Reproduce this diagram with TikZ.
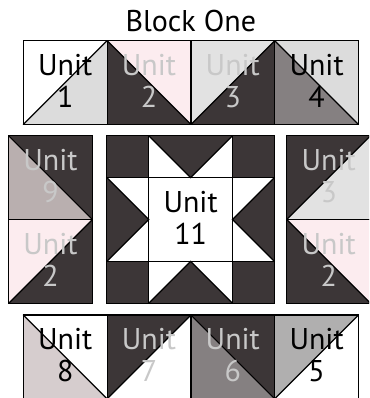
\documentclass[tikz,border=0pt]{standalone}
\usepackage{fontspec}
\setmainfont{PT Sans}
\definecolor{darkq}{RGB}{60,54,55}
\definecolor{pinkq}{RGB}{252,236,239}
\definecolor{lgreyq}{RGB}{220,220,220}
\definecolor{lgreyr}{RGB}{226,226,226}
\definecolor{mgreyq}{RGB}{133,128,129}
\definecolor{taupeq}{RGB}{185,175,175}
\definecolor{ltaupeq}{RGB}{214,205,206}
\definecolor{greyfive}{RGB}{176,175,175}
\definecolor{textlight}{RGB}{200,200,200}
\newcommand\unitsz{83.8}
\tikzset{
  edge/.style={line width=1.2pt, black, line cap=round},
  unitbox/.style={draw=black, line width=1.2pt, minimum width=83.8pt, minimum height=83.8pt,
    inner sep=0pt, align=center, text depth=4pt, font=\fontsize{30}{32}\selectfont},
  titlefont/.style={font=\fontsize{30}{32}\selectfont, inner sep=0pt}
}
% diagonal from bottom-left to top-right
\newcommand\hstup[7]{%
  \fill[#4] (#1,#2) -- ++(\unitsz,0) -- ++(-\unitsz,\unitsz) -- cycle;
  \fill[#5] (#1+\unitsz,#2) -- ++(0,\unitsz) -- ++(-\unitsz,0) -- cycle;
  \draw[edge] (#1,#2+\unitsz) -- (#1+\unitsz,#2);
  \node[unitbox, text=#6] (#3) at (#1+41.9,#2+41.9) {Unit\\#7};
}
% diagonal from top-left to bottom-right
\newcommand\hstdown[7]{%
  \fill[#4] (#1,#2) -- ++(\unitsz,0) -- ++(0,\unitsz) -- cycle;
  \fill[#5] (#1,#2) -- ++(\unitsz,\unitsz) -- ++(-\unitsz,0) -- cycle;
  \draw[edge] (#1,#2) -- (#1+\unitsz,#2+\unitsz);
  \node[unitbox, text=#6] (#3) at (#1+41.9,#2+41.9) {Unit\\#7};
}
\begin{document}
\begin{tikzpicture}[x=1pt,y=-1pt]
\useasboundingbox (0,0) rectangle (369,398);
\clip (0,0) rectangle (369,398);
\fill[white] (0,0) rectangle (369,398);
% title
\node[titlefont, anchor=base] (title) at (190.8,31.7) {Block One};
% top row
\hstup{23.3}{40.7}{u1}{white}{lgreyq}{black}{1}
\hstdown{107.1}{40.7}{u2t}{pinkq}{darkq}{textlight}{2}
\hstup{190.9}{40.7}{u3t}{lgreyr}{darkq}{textlight}{3}
\hstdown{274.7}{40.7}{u4}{lgreyq}{mgreyq}{black}{4}
% left column
\hstdown{8.6}{135.7}{u9}{darkq}{taupeq}{textlight}{9}
\hstup{8.6}{219.5}{u2l}{pinkq}{darkq}{textlight}{2}
% right column
\hstup{286.8}{135.7}{u3r}{darkq}{lgreyr}{textlight}{3}
\hstdown{286.8}{219.5}{u2r}{pinkq}{darkq}{textlight}{2}
% bottom row
\hstdown{23.3}{315}{u8}{white}{ltaupeq}{black}{8}
\hstup{107.1}{315}{u7}{darkq}{white}{textlight}{7}
\hstdown{190.9}{315}{u6}{darkq}{mgreyq}{textlight}{6}
\hstup{274.7}{315}{u5}{greyfive}{white}{black}{5}
% center star block
\fill[white] (106.8,135.7) rectangle (274.4,303.3);
\fill[darkq] (106.8,135.7) rectangle (148.7,177.6);
\fill[darkq] (232.5,135.7) rectangle (274.4,177.6);
\fill[darkq] (106.8,261.4) rectangle (148.7,303.3);
\fill[darkq] (232.5,261.4) rectangle (274.4,303.3);
\fill[darkq] (148.7,135.7) -- (232.5,135.7) -- (190.6,177.6) -- cycle;
\fill[darkq] (148.7,303.3) -- (232.5,303.3) -- (190.6,261.4) -- cycle;
\fill[darkq] (106.8,177.6) -- (106.8,261.4) -- (148.7,219.5) -- cycle;
\fill[darkq] (274.4,177.6) -- (274.4,261.4) -- (232.5,219.5) -- cycle;
\draw[edge] (106.8,135.7) rectangle (274.4,303.3);
\draw[edge] (148.7,135.7) -- (148.7,303.3);
\draw[edge] (232.5,135.7) -- (232.5,303.3);
\draw[edge] (106.8,177.6) -- (274.4,177.6);
\draw[edge] (106.8,261.4) -- (274.4,261.4);
\draw[edge] (148.7,135.7) -- (190.6,177.6) -- (232.5,135.7);
\draw[edge] (148.7,303.3) -- (190.6,261.4) -- (232.5,303.3);
\draw[edge] (106.8,177.6) -- (148.7,219.5) -- (106.8,261.4);
\draw[edge] (274.4,177.6) -- (232.5,219.5) -- (274.4,261.4);
\node[unitbox, text=black] (u11) at (190.6,219.5) {Unit\\11};
\end{tikzpicture}
\end{document}
